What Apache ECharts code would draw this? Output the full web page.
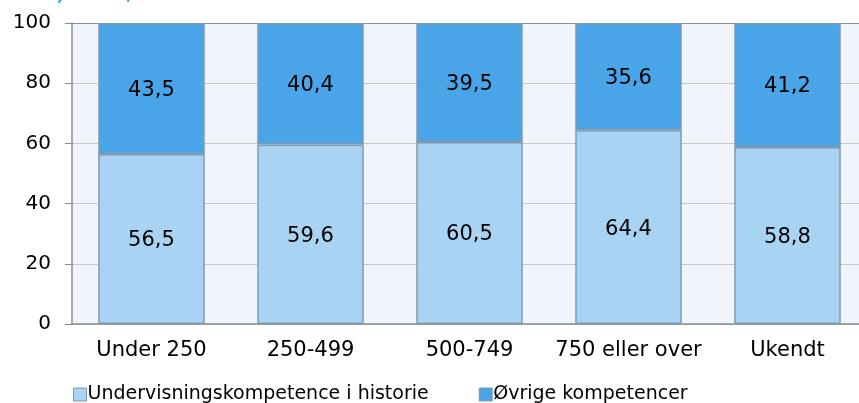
<!DOCTYPE html>
<html>
<head>
<meta charset="utf-8">
<script src="https://cdn.jsdelivr.net/npm/echarts@6/dist/echarts.min.js"></script>
<style>
html,body{margin:0;padding:0;background:#fff;overflow:hidden;}
#wrap{width:859px;height:403px;overflow:hidden;position:relative;}
#chart{width:867px;height:403px;position:absolute;left:0;top:0;}
</style>
</head>
<body>
<div id="wrap"><div id="chart"></div></div>
<script>
// kategorier (skolestørrelse) og andele i pct.
var categories = ['Under 250', '250-499', '500-749', '750 eller over', 'Ukendt'];
var undervisning = [56.5, 59.6, 60.5, 64.4, 58.8];
var oevrige = [43.5, 40.4, 39.5, 35.6, 41.2];
var yTicks = [0, 20, 40, 60, 80, 100];

var font = 'DejaVu Sans, Verdana, sans-serif';

function fmt(p){
	return String(p.value).replace('.', ',');
}

// øverste gitterlinje (100) er mørkere
var gridColors = yTicks.map(function(t, i){
	return i === yTicks.length - 1 ? '#8c8c8c' : '#c8c8c0';
});

var chart = echarts.init(document.getElementById('chart'));
chart.setOption({
	animation: false,
	textStyle: {fontFamily: font},
	graphic: [{
		type: 'text',
		style: {
			text: 'Undervisningskompetence i historie fordelt på skolestørrelse, skoleåret, 2014/15',
			x: 162, y: -15,
			textAlign: 'right',
			fill: '#4aa8f0',
			font: 'bold 20px ' + font
		}
	}],
	legend: {
		left: 68, top: 380,
		icon: 'rect',
		itemWidth: 13, itemHeight: 13, itemGap: 50,
		itemStyle: {borderColor: '#7f9bb3', borderWidth: 1},
		textStyle: {fontSize: 19, color: '#000', padding: [0, 0, 0, -4]},
		data: ['Undervisningskompetence i historie', 'Øvrige kompetencer']
	},
	grid: {
		left: 72, right: 0, top: 23, bottom: 79,
		show: true, backgroundColor: '#f0f5fd', borderWidth: 0, borderColor: 'rgba(0,0,0,0)'
	},
	xAxis: {
		type: 'category',
		data: categories,
		axisLine: {lineStyle: {color: '#8c8c8c', width: 1.5}},
		axisTick: {length: 6, lineStyle: {color: '#8c8c8c'}},
		axisLabel: {fontSize: 21, color: '#000', margin: 16, interval: 0}
	},
	yAxis: {
		type: 'value',
		min: yTicks[0], max: yTicks[yTicks.length - 1], interval: 20,
		axisLine: {show: true, lineStyle: {color: '#8c8c8c', width: 1.5}},
		axisTick: {show: true, length: 7, lineStyle: {color: '#8c8c8c'}},
		axisLabel: {fontSize: 20, color: '#000', margin: 21},
		splitLine: {lineStyle: {color: gridColors}}
	},
	series: [{
		name: 'Undervisningskompetence i historie',
		type: 'bar', stack: 'a',
		barCategoryGap: '33%',
		data: undervisning,
		itemStyle: {color: '#a8d3f3', borderColor: '#7f9bb3', borderWidth: 1.5},
		label: {show: true, position: 'inside', fontSize: 21, color: '#000', formatter: fmt, offset: [0, 2]}
	}, {
		name: 'Øvrige kompetencer',
		type: 'bar', stack: 'a',
		data: oevrige,
		itemStyle: {color: '#4aa4e8', borderColor: '#7f9bb3', borderWidth: 1.5},
		label: {show: true, position: 'inside', fontSize: 21, color: '#000', formatter: fmt, offset: [0, 2]}
	}]
});
</script>
</body>
</html>
